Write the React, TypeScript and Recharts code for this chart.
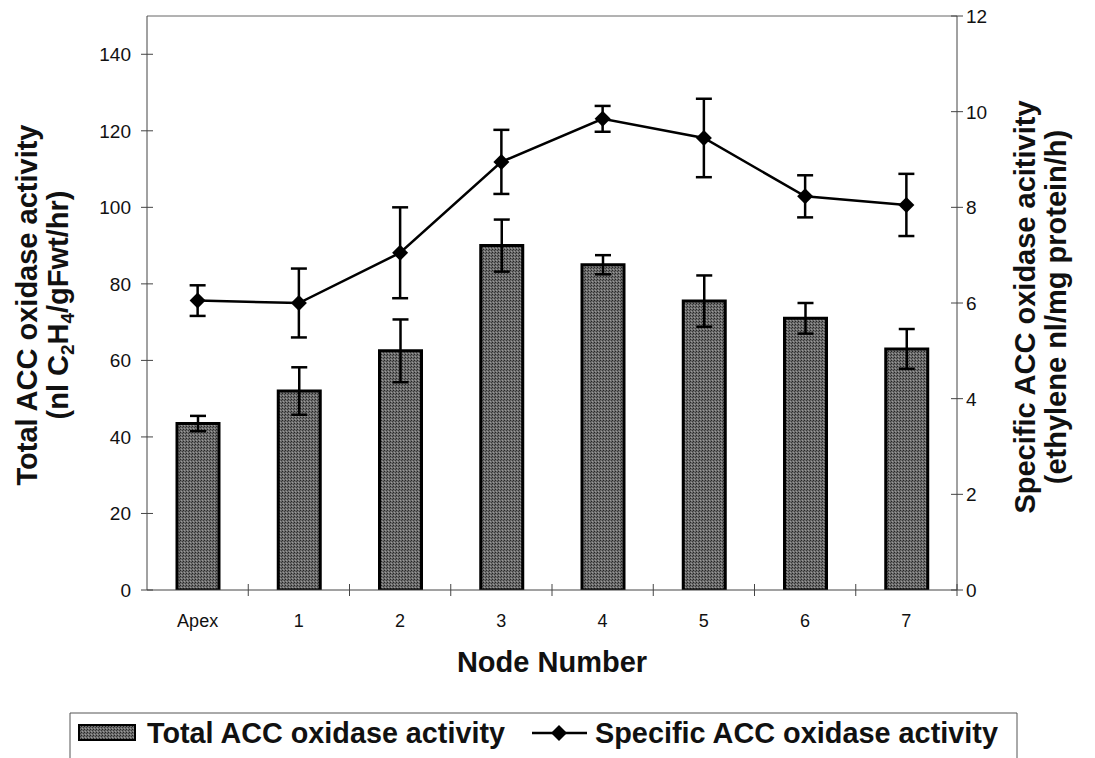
import React from "react";
import {
  Bar,
  ComposedChart,
  ErrorBar,
  Label,
  Line,
  ReferenceLine,
  XAxis,
  YAxis,
} from "recharts";

const nodes = ["Apex", "1", "2", "3", "4", "5", "6", "7"];
// nl C2H4/gFwt/hr (left axis)
const totalActivity = [43.5, 52, 62.5, 90, 85, 75.5, 71, 63];
const totalErr = [2, 6.2, 8.2, 6.8, 2.5, 6.7, 4, 5.2];
// ethylene nl/mg protein/h (right axis)
const specificActivity = [6.05, 6.0, 7.05, 8.95, 9.85, 9.45, 8.23, 8.05];
const specificErr = [0.32, 0.72, 0.95, 0.67, 0.27, 0.82, 0.44, 0.65];

const leftTicks = [0, 20, 40, 60, 80, 100, 120, 140];
const rightTicks = [0, 2, 4, 6, 8, 10, 12];

const FONT = "'Liberation Sans', Arial, Helvetica, sans-serif";
const INK = "#111";
const AXIS = "#444";

const data = nodes.map((node, i) => ({
  node,
  total: totalActivity[i],
  totalErr: totalErr[i],
  specific: specificActivity[i],
  specificErr: specificErr[i],
}));

function XTick(props: any) {
  const { x, y, payload } = props;
  const off = payload?.offset ?? 0;
  return (
    <g>
      <line x1={x + off} x2={x + off} y1={y - 12} y2={y} stroke={AXIS} strokeWidth={1} />
      <text x={x} y={y + 31} textAnchor="middle" fontSize={18} fontFamily={FONT} fill={INK}>
        {payload.value}
      </text>
    </g>
  );
}

function LeftTick(props: any) {
  const { x, y, payload } = props;
  return (
    <g>
      <line x1={x + 10} x2={x + 22} y1={y} y2={y} stroke={AXIS} strokeWidth={1} />
      <text x={x} y={y + 7} textAnchor="end" fontSize={19} fontFamily={FONT} fill={INK}>
        {payload.value}
      </text>
    </g>
  );
}

function RightTick(props: any) {
  const { x, y, payload } = props;
  return (
    <g>
      <line x1={x - 15} x2={x - 3} y1={y} y2={y} stroke={AXIS} strokeWidth={1} />
      <text x={x} y={y + 7} textAnchor="start" fontSize={19} fontFamily={FONT} fill={INK}>
        {payload.value}
      </text>
    </g>
  );
}

function Diamond(props: any) {
  const { cx, cy } = props;
  if (cx == null || cy == null) return <g key={props.key} />;
  const r = 8;
  return (
    <polygon
      key={props.key}
      points={`${cx},${cy - r} ${cx + r},${cy} ${cx},${cy + r} ${cx - r},${cy}`}
      fill="#000"
    />
  );
}

function LeftTitle(props: any) {
  const vb = props.viewBox || { x: 0, y: 16, width: 147, height: 574 };
  const cy = vb.y + vb.height / 2 + 2;
  const style = { fontFamily: FONT, fontWeight: 700, fontSize: 29, fill: INK };
  return (
    <g>
      <text x={vb.x + 37} y={cy} textAnchor="middle" transform={`rotate(-90 ${vb.x + 37} ${cy})`} style={style}>
        Total ACC oxidase activity
      </text>
      <text x={vb.x + 68} y={cy} textAnchor="middle" transform={`rotate(-90 ${vb.x + 68} ${cy})`} style={style}>
        (nl C<tspan fontSize={19} dy={6}>2</tspan>
        <tspan dy={-6}>H</tspan>
        <tspan fontSize={19} dy={6}>4</tspan>
        <tspan dy={-6}>/gFwt/hr)</tspan>
      </text>
    </g>
  );
}

function RightTitle(props: any) {
  const vb = props.viewBox || { x: 957, y: 16, width: 138, height: 574 };
  const cy = vb.y + vb.height / 2 + 4;
  const x1 = vb.x + 78;
  const x2 = vb.x + 109;
  const style = { fontFamily: FONT, fontWeight: 700, fontSize: 29, fill: INK };
  return (
    <g>
      <text x={x1} y={cy} textAnchor="middle" transform={`rotate(-90 ${x1} ${cy})`} style={style}>
        Specific ACC oxidase acitivity
      </text>
      <text x={x2} y={cy} textAnchor="middle" transform={`rotate(-90 ${x2} ${cy})`} style={style}>
        (ethylene nl/mg protein/h)
      </text>
    </g>
  );
}

function XTitle(props: any) {
  const vb = props.viewBox || { x: 147, y: 590, width: 810, height: 110 };
  return (
    <text
      x={vb.x + vb.width / 2}
      y={vb.y + 82}
      textAnchor="middle"
      style={{ fontFamily: FONT, fontWeight: 700, fontSize: 29, fill: INK }}
    >
      Node Number
    </text>
  );
}

function DotPattern() {
  return (
    <defs>
      <pattern id="stipple" width="3" height="3" patternUnits="userSpaceOnUse">
        <rect width="3" height="3" fill="#6c6c6c" />
        <rect x="0" y="0" width="1" height="1" fill="#262626" />
        <rect x="2" y="1" width="1" height="1" fill="#3a3a3a" />
        <rect x="1" y="2" width="1" height="1" fill="#9a9a9a" />
      </pattern>
    </defs>
  );
}

function LegendBox() {
  const text = { fontFamily: FONT, fontWeight: 700, fontSize: 29, fill: INK };
  return (
    <svg
      width={1095}
      height={758}
      style={{ position: "absolute", left: 0, top: 0, pointerEvents: "none" }}
    >
      <DotPattern />
      <path d="M70 760 V713 H1017 V760" fill="none" stroke="#555" strokeWidth={1} />
      <rect x={79} y={725} width={56} height={15} fill="url(#stipple)" stroke="#000" strokeWidth={2} />
      <text x={147} y={743} textLength={358} lengthAdjust="spacingAndGlyphs" style={text}>
        Total ACC oxidase activity
      </text>
      <line x1={532} x2={587} y1={733} y2={733} stroke="#000" strokeWidth={2.5} />
      <polygon points="559,725 567,733 559,741 551,733" fill="#000" />
      <text x={595} y={743} textLength={403} lengthAdjust="spacingAndGlyphs" style={text}>
        Specific ACC oxidase activity
      </text>
    </svg>
  );
}

export default function App() {
  return (
    <div
      style={{
        position: "absolute",
        left: 0,
        top: 0,
        width: 1095,
        height: 758,
        background: "#fff",
        overflow: "hidden",
      }}
    >
      <ComposedChart
        width={1095}
        height={700}
        data={data}
        margin={{ top: 16, right: 0, left: 0, bottom: 0 }}
      >
        <DotPattern />
        <XAxis
          dataKey="node"
          height={110}
          axisLine={{ stroke: AXIS, strokeWidth: 1 }}
          tickLine={false}
          tickSize={6}
          tickMargin={0}
          tick={<XTick />}
          interval={0}
        >
          <Label content={<XTitle />} />
        </XAxis>
        <YAxis
          yAxisId="total"
          orientation="left"
          width={147}
          domain={[0, 150]}
          ticks={leftTicks}
          allowDataOverflow
          axisLine={{ stroke: AXIS, strokeWidth: 1 }}
          tickLine={false}
          tickSize={6}
          tickMargin={10}
          tick={<LeftTick />}
        >
          <Label content={<LeftTitle />} />
        </YAxis>
        <YAxis
          yAxisId="specific"
          orientation="right"
          width={138}
          domain={[0, 12]}
          ticks={rightTicks}
          allowDataOverflow
          axisLine={{ stroke: AXIS, strokeWidth: 1 }}
          tickLine={false}
          tickSize={6}
          tickMargin={3}
          tick={<RightTick />}
        >
          <Label content={<RightTitle />} />
        </YAxis>
        <ReferenceLine yAxisId="total" y={150} stroke="#666" strokeWidth={1} />
        <Bar
          yAxisId="total"
          dataKey="total"
          barSize={42}
          fill="url(#stipple)"
          stroke="#000"
          strokeWidth={3}
          isAnimationActive={false}
        >
          <ErrorBar dataKey="totalErr" width={8} stroke="#000" strokeWidth={2.5} direction="y" />
        </Bar>
        <Line
          yAxisId="specific"
          dataKey="specific"
          stroke="#000"
          strokeWidth={2.5}
          dot={(p: any) => <Diamond {...p} key={p.key ?? p.index} />}
          activeDot={false}
          isAnimationActive={false}
        >
          <ErrorBar dataKey="specificErr" width={8} stroke="#000" strokeWidth={2.5} direction="y" />
        </Line>
      </ComposedChart>
      <LegendBox />
    </div>
  );
}
